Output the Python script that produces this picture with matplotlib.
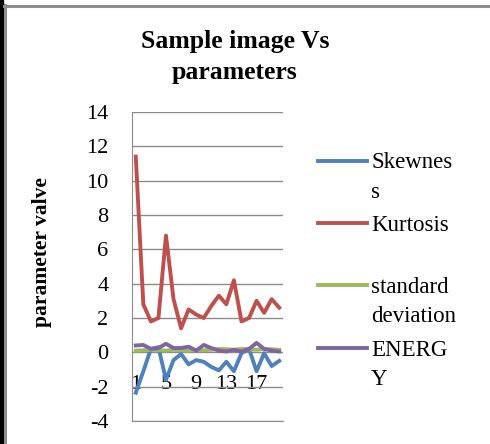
import numpy as np
import matplotlib
matplotlib.use('Agg')
import matplotlib.pyplot as plt
from matplotlib.lines import Line2D
from matplotlib.patches import Rectangle

# ---------------- data ----------------
samples   = list(range(1, 21))            # sample image number 1..20
skewness  = [-2.35, -1.1, 0.2, 0.3, -1.6, -0.45, -0.1, -0.7, -0.45, -0.55,
             -0.85, -1.05, -0.55, -1.1, -0.05, 0.2, -1.1, -0.05, -0.8, -0.5]
kurtosis  = [11.4, 2.8, 1.8, 2.0, 6.8, 3.1, 1.4, 2.5, 2.2, 2.0,
             2.7, 3.3, 2.8, 4.2, 1.8, 2.0, 3.0, 2.3, 3.1, 2.6]
std_dev   = [0.1, 0.12, 0.15, 0.12, 0.1, 0.15, 0.12, 0.1, 0.15, 0.12,
             0.15, 0.2, 0.18, 0.15, 0.2, 0.18, 0.15, 0.2, 0.18, 0.15]
energy    = [0.4, 0.43, 0.2, 0.25, 0.5, 0.25, 0.25, 0.33, 0.1, 0.43,
             0.25, 0.1, 0.05, 0.15, 0.05, 0.2, 0.55, 0.2, 0.1, 0.05]
labels    = ['Skewnes\ns', 'Kurtosis', 'standard\ndeviation', 'ENERG\nY']
colors    = ['#4F81BD', '#C0504D', '#9BBB59', '#8064A2']
yticks    = list(range(-4, 15, 2))
xticks    = [1, 5, 9, 13, 17]

W, H = 490, 444
plt.rcParams['font.family'] = ['Liberation Serif', 'DejaVu Serif']

fig = plt.figure(figsize=(W / 100, H / 100), dpi=100)
ax = fig.add_axes([132 / W, 23 / H, 151 / W, 309 / H])

# ---------------- the four series ----------------
lines = []
for vals, c in zip([skewness, kurtosis, std_dev, energy], colors):
    ln, = ax.plot(samples, vals, color=c, lw=2.8, solid_joinstyle='round')
    lines.append(ln)

ax.set_xlim(0.5, 20.5)
ax.set_ylim(-4, 14)
ax.set_yticks(yticks)
ax.set_yticklabels([str(v) for v in yticks])
ax.set_xticks(xticks)
ax.set_xticklabels([str(v) for v in xticks])
ax.yaxis.grid(True, color='#8c8c8c', lw=1)
ax.set_axisbelow(True)
ax.tick_params(axis='y', length=0, pad=17, labelsize=16)
ax.tick_params(axis='x', length=0, pad=-33, labelsize=16)
for s in ['top', 'right']:
    ax.spines[s].set_visible(False)
for s in ['left', 'bottom']:
    ax.spines[s].set_color('#8c8c8c')

# ---------------- titles ----------------
fig.text(235 / W, 1 - 57 / H, 'Sample image Vs\nparameters', ha='center', va='center',
         fontsize=18.5, fontweight='bold', linespacing=1.45)
fig.text(42 / W, 1 - 252 / H, 'parameter valve', rotation=90, ha='center', va='center',
         fontsize=15.5, fontweight='bold')

# ---------------- legend, key on the first text line ----------------
key_y = [161, 223, 285, 348]
fs = 16.5
for ln, lab, ky in zip(lines, labels, key_y):
    fig.add_artist(Line2D([318 / W, 367 / W], [1 - ky / H, 1 - ky / H],
                          color=ln.get_color(), lw=2.8))
    fig.text(371 / W, 1 - (ky - 8.5) / H, lab, ha='left', va='top',
             fontsize=fs, linespacing=1.55)

# ---------------- chart frame ----------------
fig.add_artist(Rectangle((0, 0), 2.5 / W, 1, color='black', transform=fig.transFigure))
fig.add_artist(Line2D([4.5 / W, 4.5 / W], [0, 1 - 5 / H], color='#8c8c8c', lw=2.2))
fig.add_artist(Line2D([3.5 / W, 1], [1 - 6 / H, 1 - 6 / H], color='#8c8c8c', lw=2.2))

fig.savefig('out.png', dpi=100)
